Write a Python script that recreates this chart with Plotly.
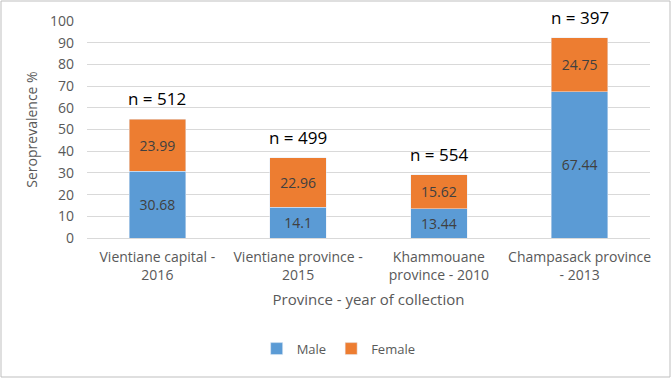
import plotly.graph_objects as go

categories = ["Vientiane capital -<br>2016", "Vientiane province -<br>2015",
              "Khammouane<br>province - 2010", "Champasack province<br>- 2013"]
male = [30.68, 14.1, 13.44, 67.44]
female = [23.99, 22.96, 15.62, 24.75]
male_labels = ["30.68", "14.1", "13.44", "67.44"]
female_labels = ["23.99", "22.96", "15.62", "24.75"]
n_labels = ["n = 512", "n = 499", "n = 554", "n = 397"]

FONT = "Open Sans"
fig = go.Figure()
fig.add_trace(go.Bar(x=categories, y=male, name="Male", marker_color="#5B9BD5",
                     text=male_labels, textposition="inside", insidetextanchor="middle",
                     textfont=dict(color="#404040", size=14, family=FONT)))
fig.add_trace(go.Bar(x=categories, y=female, name="Female", marker_color="#ED7D31",
                     text=female_labels, textposition="inside", insidetextanchor="middle",
                     textfont=dict(color="#404040", size=14, family=FONT)))

for c, m, f, t in zip(categories, male, female, n_labels):
    fig.add_annotation(x=c, y=m + f, text=t, showarrow=False, yanchor="bottom",
                       yshift=7, font=dict(size=17, color="#000000", family=FONT))

fig.update_layout(
    barmode="stack", bargap=0.6,
    width=671, height=378,
    margin=dict(l=87, r=21, t=21, b=140, autoexpand=False),
    paper_bgcolor="white", plot_bgcolor="white",
    font=dict(family=FONT, color="#595959", size=13),
    legend=dict(orientation="h", x=0.447, xanchor="center", y=-0.51, yanchor="middle",
                font=dict(size=13, color="#595959"), traceorder="normal",
                itemwidth=30),
    shapes=[dict(type="rect", xref="paper", yref="paper", x0=-86/563, x1=1+20/563,
                 y0=-139/217, y1=1+20/217, line=dict(color="#BFBFBF", width=1))],
)
fig.update_yaxes(range=[0, 100], dtick=10, showgrid=True, gridcolor="#D9D9D9",
                 zeroline=False, showline=False, ticks="", ticklen=0, ticklabelstandoff=12,
                 automargin=False,
                 title=dict(text="Seroprevalence %", font=dict(size=14, color="#595959"), standoff=9),
                 tickfont=dict(size=14, color="#595959"))
fig.update_xaxes(showline=True, linecolor="#D9D9D9", ticks="", ticklabelstandoff=6,
                 automargin=False,
                 tickfont=dict(size=14, color="#595959"),
                 title=dict(text="Province - year of collection", font=dict(size=15, color="#595959"),
                            standoff=11))

fig.write_html("out.html", config={"displayModeBar": False},
               post_script="document.body.style.margin='0px';")
